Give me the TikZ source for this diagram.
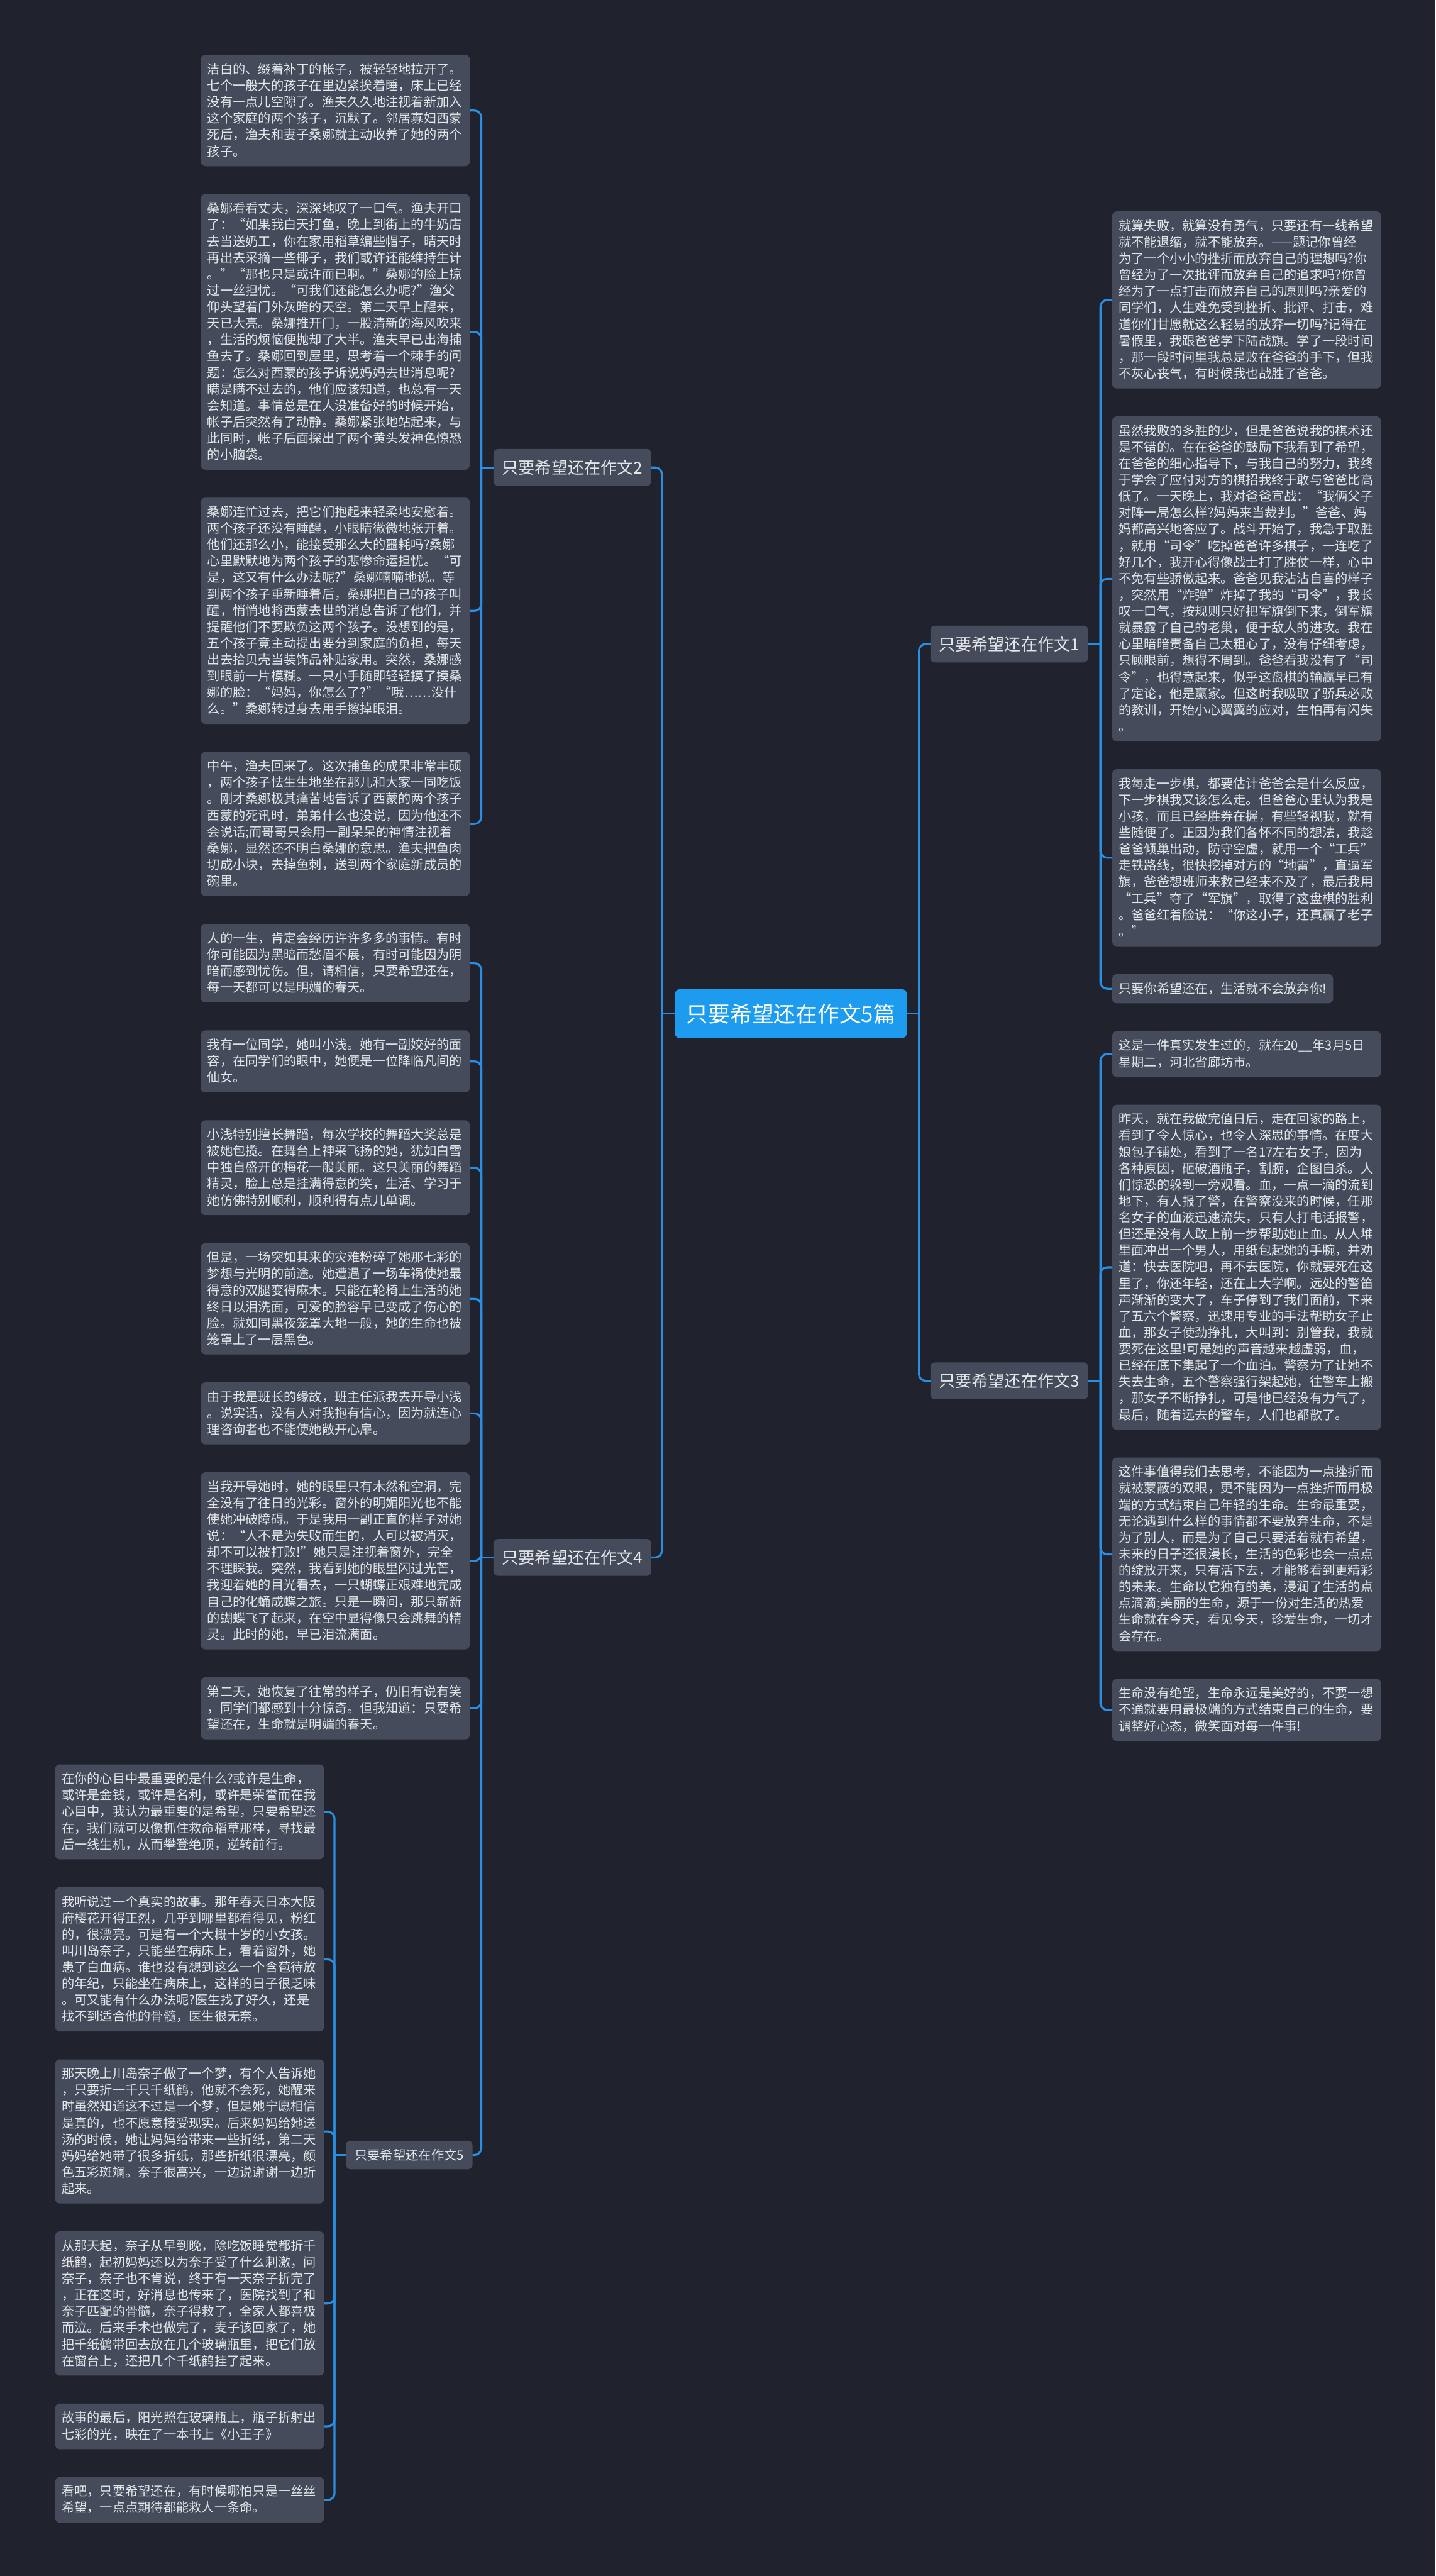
\documentclass[tikz,border=0pt]{standalone}
\usepackage{fontspec}
\setmainfont{Noto Sans CJK SC}
\usetikzlibrary{positioning}
\definecolor{bgnavy}{HTML}{20232E}
\definecolor{cardgray}{HTML}{454B5A}
\definecolor{cardtext}{HTML}{E4E6EA}
\definecolor{rootblue}{HTML}{1C9BEF}
\definecolor{linkblue}{HTML}{2A8FE3}
\newcommand{\cardstrut}{\rule[-1.3pt]{0pt}{6.5pt}}
\newcommand{\cardgap}{12.45pt}
\tikzset{
  every picture/.style={line width=0.9pt},
  sCard/.style={fill=cardgray, rounded corners=2pt, text=cardtext, outer sep=0pt,
                inner xsep=2.93pt, inner ysep=3.25pt,
                font=\fontsize{5.675pt}{7.323pt}\selectfont,
                execute at begin node={\parindent=0pt\cardstrut},
                execute at end node={\cardstrut}},
  sLeaf/.style={sCard, text width=114pt, align=left},
  sRoot/.style={fill=rootblue, rounded corners=2pt, text=white, inner sep=0pt, outer sep=0pt,
                minimum width=103.3pt, minimum height=21.75pt,
                font=\fontsize{9.74pt}{11pt}\selectfont},
  sBranch/.style={fill=cardgray, rounded corners=2pt, text=cardtext, inner sep=0pt, outer sep=0pt,
                  minimum width=70.3pt, minimum height=16.4pt,
                  font=\fontsize{7.32pt}{8.5pt}\selectfont},
  sSub/.style={sBranch, minimum width=56.4pt, minimum height=12.75pt,
               font=\fontsize{5.7pt}{7pt}\selectfont},
  sLink/.style={draw=linkblue, rounded corners=3pt},
}
\begin{document}
\begin{tikzpicture}[x=0.7323pt, y=-0.7323pt]
  \useasboundingbox (0,0) rectangle (874,1568);
  \fill[bgnavy] (0,0) rectangle (874,1568);

  % centre and the five essays
  \node[sRoot] (root) at (481.5,617) {只要希望还在作文5篇};
  \node[sBranch] (s1) at (614.5,392) {只要希望还在作文1};
  \node[sBranch] (s3) at (614.5,840.5) {只要希望还在作文3};
  \node[sBranch] (s2) at (348.5,284.5) {只要希望还在作文2};
  \node[sBranch] (s4) at (348.5,948) {只要希望还在作文4};
  \node[sSub] (s5) at (249.2,1311.7) {只要希望还在作文5};

  % left column: essay 2 and essay 4
  \node[sLeaf, anchor=north west] (t2a) at (122.3,33.4) {洁白的、缀着补丁的帐子，被轻轻地拉开了。\\七个一般大的孩子在里边紧挨着睡，床上已经\\没有一点儿空隙了。渔夫久久地注视着新加入\\这个家庭的两个孩子，沉默了。邻居寡妇西蒙\\死后，渔夫和妻子桑娜就主动收养了她的两个\\孩子。};
  \node[sLeaf, below=\cardgap of t2a] (t2b) {桑娜看看丈夫，深深地叹了一口气。渔夫开口\\了：“如果我白天打鱼，晚上到街上的牛奶店\\去当送奶工，你在家用稻草编些帽子，晴天时\\再出去采摘一些椰子，我们或许还能维持生计\\。”“那也只是或许而已啊。”桑娜的脸上掠\\过一丝担忧。“可我们还能怎么办呢?”渔父\\仰头望着门外灰暗的天空。第二天早上醒来，\\天已大亮。桑娜推开门，一股清新的海风吹来\\，生活的烦恼便抛却了大半。渔夫早已出海捕\\鱼去了。桑娜回到屋里，思考着一个棘手的问\\题：怎么对西蒙的孩子诉说妈妈去世消息呢?\\瞒是瞒不过去的，他们应该知道，也总有一天\\会知道。事情总是在人没准备好的时候开始，\\帐子后突然有了动静。桑娜紧张地站起来，与\\此同时，帐子后面探出了两个黄头发神色惊恐\\的小脑袋。};
  \node[sLeaf, below=\cardgap of t2b] (t2c) {桑娜连忙过去，把它们抱起来轻柔地安慰着。\\两个孩子还没有睡醒，小眼睛微微地张开着。\\他们还那么小，能接受那么大的噩耗吗?桑娜\\心里默默地为两个孩子的悲惨命运担忧。“可\\是，这又有什么办法呢?”桑娜喃喃地说。等\\到两个孩子重新睡着后，桑娜把自己的孩子叫\\醒，悄悄地将西蒙去世的消息告诉了他们，并\\提醒他们不要欺负这两个孩子。没想到的是，\\五个孩子竟主动提出要分到家庭的负担，每天\\出去拾贝壳当装饰品补贴家用。突然，桑娜感\\到眼前一片模糊。一只小手随即轻轻摸了摸桑\\娜的脸：“妈妈，你怎么了?”“哦……没什\\么。”桑娜转过身去用手擦掉眼泪。};
  \node[sLeaf, below=\cardgap of t2c] (t2d) {中午，渔夫回来了。这次捕鱼的成果非常丰硕\\，两个孩子怯生生地坐在那儿和大家一同吃饭\\。刚才桑娜极其痛苦地告诉了西蒙的两个孩子\\西蒙的死讯时，弟弟什么也没说，因为他还不\\会说话;而哥哥只会用一副呆呆的神情注视着\\桑娜，显然还不明白桑娜的意思。渔夫把鱼肉\\切成小块，去掉鱼刺，送到两个家庭新成员的\\碗里。};
  \node[sLeaf, below=\cardgap of t2d] (t4a) {人的一生，肯定会经历许许多多的事情。有时\\你可能因为黑暗而愁眉不展，有时可能因为阴\\暗而感到忧伤。但，请相信，只要希望还在，\\每一天都可以是明媚的春天。};
  \node[sLeaf, below=\cardgap of t4a] (t4b) {我有一位同学，她叫小浅。她有一副姣好的面\\容，在同学们的眼中，她便是一位降临凡间的\\仙女。};
  \node[sLeaf, below=\cardgap of t4b] (t4c) {小浅特别擅长舞蹈，每次学校的舞蹈大奖总是\\被她包揽。在舞台上神采飞扬的她，犹如白雪\\中独自盛开的梅花一般美丽。这只美丽的舞蹈\\精灵，脸上总是挂满得意的笑，生活、学习于\\她仿佛特别顺利，顺利得有点儿单调。};
  \node[sLeaf, below=\cardgap of t4c] (t4d) {但是，一场突如其来的灾难粉碎了她那七彩的\\梦想与光明的前途。她遭遇了一场车祸使她最\\得意的双腿变得麻木。只能在轮椅上生活的她\\终日以泪洗面，可爱的脸容早已变成了伤心的\\脸。就如同黑夜笼罩大地一般，她的生命也被\\笼罩上了一层黑色。};
  \node[sLeaf, below=\cardgap of t4d] (t4e) {由于我是班长的缘故，班主任派我去开导小浅\\。说实话，没有人对我抱有信心，因为就连心\\理咨询者也不能使她敞开心扉。};
  \node[sLeaf, below=\cardgap of t4e] (t4f) {当我开导她时，她的眼里只有木然和空洞，完\\全没有了往日的光彩。窗外的明媚阳光也不能\\使她冲破障碍。于是我用一副正直的样子对她\\说：“人不是为失败而生的，人可以被消灭，\\却不可以被打败!”她只是注视着窗外，完全\\不理睬我。突然，我看到她的眼里闪过光芒，\\我迎着她的目光看去，一只蝴蝶正艰难地完成\\自己的化蛹成蝶之旅。只是一瞬间，那只崭新\\的蝴蝶飞了起来，在空中显得像只会跳舞的精\\灵。此时的她，早已泪流满面。};
  \node[sLeaf, below=\cardgap of t4f] (t4g) {第二天，她恢复了往常的样子，仍旧有说有笑\\，同学们都感到十分惊奇。但我知道：只要希\\望还在，生命就是明媚的春天。};

  % essay 5, hanging off essay 4
  \node[sLeaf, anchor=north west] (t5a) at (33.6,1074) {在你的心目中最重要的是什么?或许是生命，\\或许是金钱，或许是名利，或许是荣誉而在我\\心目中，我认为最重要的是希望，只要希望还\\在，我们就可以像抓住救命稻草那样，寻找最\\后一线生机，从而攀登绝顶，逆转前行。};
  \node[sLeaf, below=\cardgap of t5a] (t5b) {我听说过一个真实的故事。那年春天日本大阪\\府樱花开得正烈，几乎到哪里都看得见，粉红\\的，很漂亮。可是有一个大概十岁的小女孩。\\叫川岛奈子，只能坐在病床上，看着窗外，她\\患了白血病。谁也没有想到这么一个含苞待放\\的年纪，只能坐在病床上，这样的日子很乏味\\。可又能有什么办法呢?医生找了好久，还是\\找不到适合他的骨髓，医生很无奈。};
  \node[sLeaf, below=\cardgap of t5b] (t5c) {那天晚上川岛奈子做了一个梦，有个人告诉她\\，只要折一千只千纸鹤，他就不会死，她醒来\\时虽然知道这不过是一个梦，但是她宁愿相信\\是真的，也不愿意接受现实。后来妈妈给她送\\汤的时候，她让妈妈给带来一些折纸，第二天\\妈妈给她带了很多折纸，那些折纸很漂亮，颜\\色五彩斑斓。奈子很高兴，一边说谢谢一边折\\起来。};
  \node[sLeaf, below=\cardgap of t5c] (t5d) {从那天起，奈子从早到晚，除吃饭睡觉都折千\\纸鹤，起初妈妈还以为奈子受了什么刺激，问\\奈子，奈子也不肯说，终于有一天奈子折完了\\，正在这时，好消息也传来了，医院找到了和\\奈子匹配的骨髓，奈子得救了，全家人都喜极\\而泣。后来手术也做完了，麦子该回家了，她\\把千纸鹤带回去放在几个玻璃瓶里，把它们放\\在窗台上，还把几个千纸鹤挂了起来。};
  \node[sLeaf, below=\cardgap of t5d] (t5e) {故事的最后，阳光照在玻璃瓶上，瓶子折射出\\七彩的光，映在了一本书上《小王子》};
  \node[sLeaf, below=\cardgap of t5e] (t5f) {看吧，只要希望还在，有时候哪怕只是一丝丝\\希望，一点点期待都能救人一条命。};

  % right column: essay 1 and essay 3
  \node[sLeaf, anchor=north west] (t1a) at (677.2,128.7) {就算失败，就算没有勇气，只要还有一线希望\\就不能退缩，就不能放弃。——题记你曾经\\为了一个小小的挫折而放弃自己的理想吗?你\\曾经为了一次批评而放弃自己的追求吗?你曾\\经为了一点打击而放弃自己的原则吗?亲爱的\\同学们，人生难免受到挫折、批评、打击，难\\道你们甘愿就这么轻易的放弃一切吗?记得在\\暑假里，我跟爸爸学下陆战旗。学了一段时间\\，那一段时间里我总是败在爸爸的手下，但我\\不灰心丧气，有时候我也战胜了爸爸。};
  \node[sLeaf, below=\cardgap of t1a] (t1b) {虽然我败的多胜的少，但是爸爸说我的棋术还\\是不错的。在在爸爸的鼓励下我看到了希望，\\在爸爸的细心指导下，与我自己的努力，我终\\于学会了应付对方的棋招我终于敢与爸爸比高\\低了。一天晚上，我对爸爸宣战：“我俩父子\\对阵一局怎么样?妈妈来当裁判。”爸爸、妈\\妈都高兴地答应了。战斗开始了，我急于取胜\\，就用“司令”吃掉爸爸许多棋子，一连吃了\\好几个，我开心得像战士打了胜仗一样，心中\\不免有些骄傲起来。爸爸见我沾沾自喜的样子\\，突然用“炸弹”炸掉了我的“司令”，我长\\叹一口气，按规则只好把军旗倒下来，倒军旗\\就暴露了自己的老巢，便于敌人的进攻。我在\\心里暗暗责备自己太粗心了，没有仔细考虑，\\只顾眼前，想得不周到。爸爸看我没有了“司\\令”，也得意起来，似乎这盘棋的输赢早已有\\了定论，他是赢家。但这时我吸取了骄兵必败\\的教训，开始小心翼翼的应对，生怕再有闪失\\。};
  \node[sLeaf, below=\cardgap of t1b] (t1c) {我每走一步棋，都要估计爸爸会是什么反应，\\下一步棋我又该怎么走。但爸爸心里认为我是\\小孩，而且已经胜券在握，有些轻视我，就有\\些随便了。正因为我们各怀不同的想法，我趁\\爸爸倾巢出动，防守空虚，就用一个“工兵”\\走铁路线，很快挖掉对方的“地雷”，直逼军\\旗，爸爸想班师来救已经来不及了，最后我用\\“工兵”夺了“军旗”，取得了这盘棋的胜利\\。爸爸红着脸说：“你这小子，还真赢了老子\\。”};
  \node[sCard, below=\cardgap of t1c.south west, anchor=north west] (t1d) {只要你希望还在，生活就不会放弃你!};
  \node[sLeaf, below=\cardgap of t1d.south west, anchor=north west] (t3a) {这是一件真实发生过的，就在20\_\_年3月5日\\星期二，河北省廊坊市。};
  \node[sLeaf, below=\cardgap of t3a] (t3b) {昨天，就在我做完值日后，走在回家的路上，\\看到了令人惊心，也令人深思的事情。在度大\\娘包子铺处，看到了一名17左右女子，因为\\各种原因，砸破酒瓶子，割腕，企图自杀。人\\们惊恐的躲到一旁观看。血，一点一滴的流到\\地下，有人报了警，在警察没来的时候，任那\\名女子的血液迅速流失，只有人打电话报警，\\但还是没有人敢上前一步帮助她止血。从人堆\\里面冲出一个男人，用纸包起她的手腕，并劝\\道：快去医院吧，再不去医院，你就要死在这\\里了，你还年轻，还在上大学啊。远处的警笛\\声渐渐的变大了，车子停到了我们面前，下来\\了五六个警察，迅速用专业的手法帮助女子止\\血，那女子使劲挣扎，大叫到：别管我，我就\\要死在这里!可是她的声音越来越虚弱，血，\\已经在底下集起了一个血泊。警察为了让她不\\失去生命，五个警察强行架起她，往警车上搬\\，那女子不断挣扎，可是他已经没有力气了，\\最后，随着远去的警车，人们也都散了。};
  \node[sLeaf, below=\cardgap of t3b] (t3c) {这件事值得我们去思考，不能因为一点挫折而\\就被蒙蔽的双眼，更不能因为一点挫折而用极\\端的方式结束自己年轻的生命。生命最重要，\\无论遇到什么样的事情都不要放弃生命，不是\\为了别人，而是为了自己只要活着就有希望，\\未来的日子还很漫长，生活的色彩也会一点点\\的绽放开来，只有活下去，才能够看到更精彩\\的未来。生命以它独有的美，浸润了生活的点\\点滴滴;美丽的生命，源于一份对生活的热爱\\生命就在今天，看见今天，珍爱生命，一切才\\会存在。};
  \node[sLeaf, below=\cardgap of t3c] (t3d) {生命没有绝望，生命永远是美好的，不要一想\\不通就要用最极端的方式结束自己的生命，要\\调整好心态，微笑面对每一件事!};

  % connectors
  \draw[sLink] (root.east) -- ++(7.5,0) coordinate (jR);
  \draw[sLink] (root.west) -- ++(-8,0) coordinate (jL);
  \foreach \c in {s1,s3} \draw[sLink] (jR) |- (\c.west);
  \foreach \c in {s2,s4} \draw[sLink] (jL) |- (\c.east);
  \draw[sLink] (s1.east) -- ++(7.5,0) coordinate (j1);
  \foreach \c in {t1a,t1b,t1c,t1d} \draw[sLink] (j1) |- (\c.west);
  \draw[sLink] (s3.east) -- ++(7.5,0) coordinate (j3);
  \foreach \c in {t3a,t3b,t3c,t3d} \draw[sLink] (j3) |- (\c.west);
  \draw[sLink] (s2.west) -- ++(-7.5,0) coordinate (j2);
  \foreach \c in {t2a,t2b,t2c,t2d} \draw[sLink] (j2) |- (\c.east);
  \draw[sLink] (s4.west) -- ++(-7.5,0) coordinate (j4);
  \foreach \c in {t4a,t4b,t4c,t4d,t4e,t4f,t4g,s5} \draw[sLink] (j4) |- (\c.east);
  \draw[sLink] (s5.west) -- ++(-7,0) coordinate (j5);
  \foreach \c in {t5a,t5b,t5c,t5d,t5e,t5f} \draw[sLink] (j5) |- (\c.east);
\end{tikzpicture}
\end{document}
